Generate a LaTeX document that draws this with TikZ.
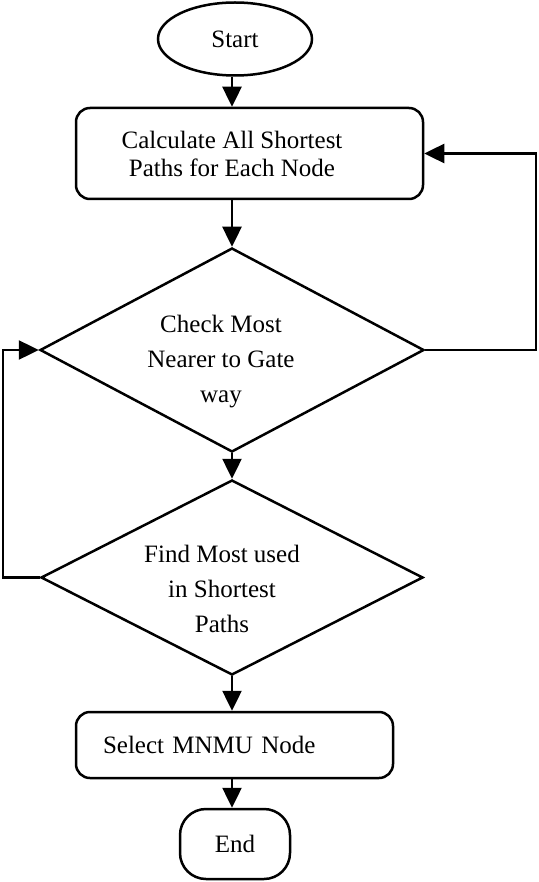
\documentclass[tikz,border=0pt]{standalone}
\usepackage{fontspec}
\setmainfont{Liberation Serif}
\usetikzlibrary{shapes.geometric,arrows.meta}
\newlength{\lnwd}
\setlength{\lnwd}{2.5pt}

\begin{document}
\begin{tikzpicture}[x=1pt,y=-1pt,line width=\lnwd,
    txt/.style={font=\fontsize{25}{28}\selectfont},
    dtxt/.style={font=\fontsize{25}{35}\selectfont,align=center},
    ar/.style={-{Triangle[length=20pt,width=19pt]}},
    box/.style={draw,rounded corners=14pt,inner sep=0pt,txt},
    dec/.style={draw,diamond,inner sep=0pt,txt}]
    \useasboundingbox (0,0) rectangle (538,882);
    % nodes
    \node[draw,ellipse,minimum width=154pt,minimum height=73pt,inner sep=0pt,txt] (start) at (235,39) {Start};
    \node[box,minimum width=347pt,minimum height=91pt,
        label={[txt,align=center,xshift=-17.5pt]center:Calculate All Shortest\\Paths for Each Node}] (calc) at (249.5,153.5) {};
    \node[dec,minimum width=384pt,minimum height=204pt,
        label={[dtxt,xshift=-11pt,yshift=-12pt]center:Check Most\\Nearer to Gate\\way}] (check) at (232,350) {};
    \node[dec,minimum width=382pt,minimum height=195pt,
        label={[dtxt,xshift=-10pt,yshift=-11pt]center:Find Most used\\in Shortest\\Paths}] (find) at (232,577.5) {};
    \node[box,minimum height=66pt,inner xsep=27pt,text width=263pt,align=left] (select) at (234.5,745) {Select MNMU Node};
    \node[draw,rounded corners=26pt,minimum width=110pt,minimum height=70pt,inner sep=0pt,txt] (end) at (235,844) {End};
    \coordinate (rr) at (536,250);
    \coordinate (ll) at (3,464);
    % connectors
    \draw[ar] (start.south -| check) -- (check |- calc.north);
    \draw[ar] (calc.south -| check) -- (check.north);
    \draw[ar] (check.south) -- (find.north);
    \draw[ar] (find.south) -- (find |- select.north);
    \draw[ar] (select.south -| find) -- (find |- end.north);
    \draw[ar] (check.east) -| (rr) |- (calc.east);
    \draw[ar] (find.west) -| (ll) |- (check.west);
\end{tikzpicture}
\end{document}
